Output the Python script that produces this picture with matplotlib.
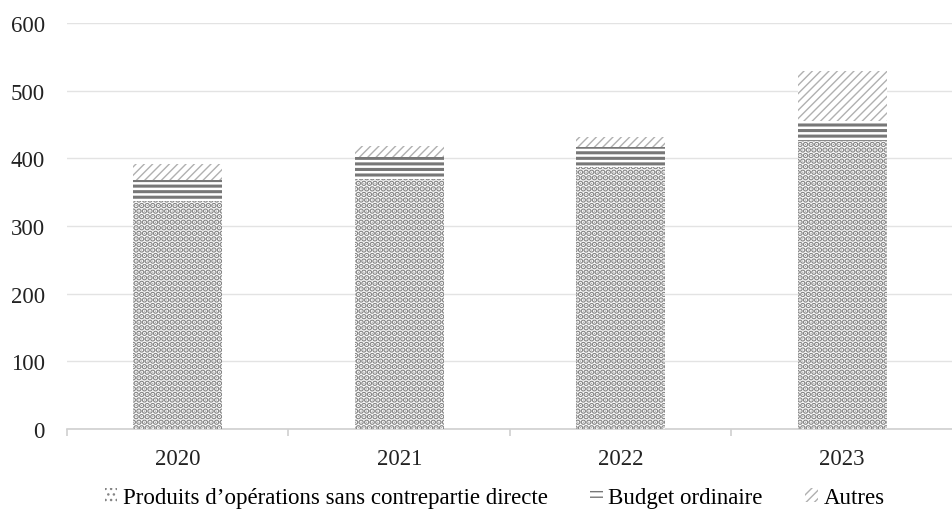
import matplotlib
matplotlib.use("Agg")
import matplotlib.pyplot as plt
from matplotlib.patches import Patch
import numpy as np

years = ["2020", "2021", "2022", "2023"]
produits = [337, 369, 387, 426]
budget = [31, 33, 30, 29]
autres = [23, 16, 14, 74]

series_labels = ["Produits d\u2019opérations sans contrepartie directe",
                 "Budget ordinaire", "Autres"]
y_ticks = [0, 100, 200, 300, 400, 500, 600]

plt.rcParams["font.family"] = ["Liberation Serif", "DejaVu Serif"]

fig = plt.figure(figsize=(9.53, 5.10), dpi=100)
ax = fig.add_axes([67 / 953, 1 - 430 / 510, (953 - 67) / 953, (430 - 24) / 510])

x = np.arange(len(years))
width = 0.40

styles = [
    dict(hatch="...", edgecolor="#858585", lw=3.0),
    dict(hatch="---", edgecolor="#777777", lw=2.2),
    dict(hatch="////", edgecolor="#b0b0b0", lw=1.0),
]

bottom = np.zeros(len(years))
handles = []
for vals, st, lab in zip([produits, budget, autres], styles, series_labels):
    vals = np.array(vals, dtype=float)
    with plt.rc_context({"hatch.linewidth": st["lw"]}):
        ax.bar(x, vals, width, bottom=bottom, facecolor="white",
               edgecolor=st["edgecolor"], linewidth=0, hatch=st["hatch"],
               zorder=3)
        handles.append(Patch(facecolor="white", edgecolor=st["edgecolor"],
                             linewidth=0, hatch=st["hatch"], label=lab))
    bottom += vals

ax.set_ylim(0, 600)
ax.set_xlim(-0.5, 3.5 - 6 / 223)
ax.set_yticks(y_ticks)
ax.set_xticks(x)
ax.set_xticklabels(years)
ax.set_xticks(np.arange(-0.5, 4, 1.0), minor=True)

ax.grid(axis="y", color="#e3e3e3", linewidth=1.0, zorder=0)
for s in ["top", "right", "left"]:
    ax.spines[s].set_visible(False)
ax.spines["bottom"].set_color("#d0d0d0")
ax.spines["bottom"].set_linewidth(1.2)

ax.tick_params(axis="y", length=0, labelsize=16.5, pad=16, colors="#222222")
ax.tick_params(axis="x", which="major", length=0, labelsize=16.5, pad=14,
               colors="#222222")
ax.tick_params(axis="x", which="minor", length=5, color="#d0d0d0", width=1.2)

fig.legend(handles=handles, loc="center", bbox_to_anchor=(0.519, 0.022),
           ncol=3, frameon=False, fontsize=16.5, handlelength=0.55,
           handleheight=0.55, handletextpad=0.25, columnspacing=1.85,
           borderpad=0, borderaxespad=0)

fig.savefig("out.png", dpi=100)
